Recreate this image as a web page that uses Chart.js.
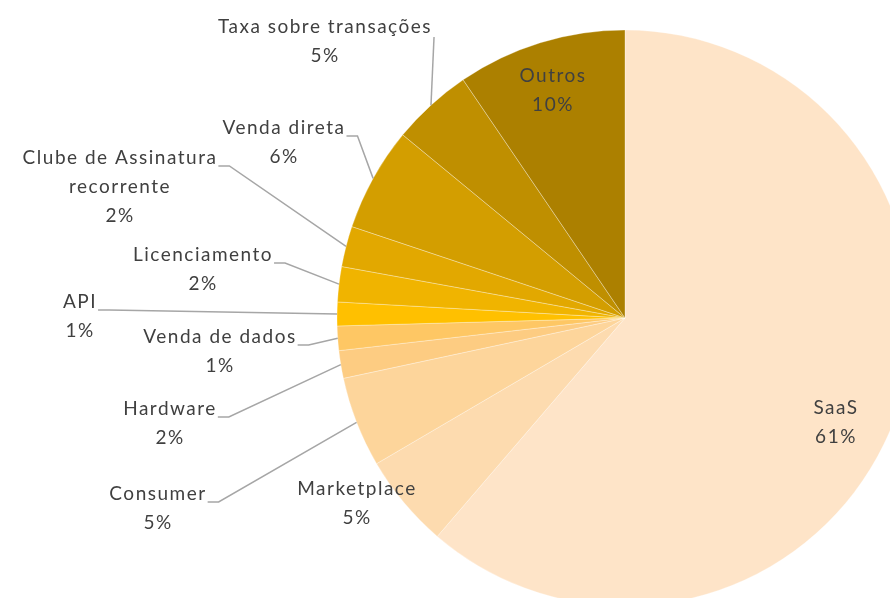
<!DOCTYPE html>
<html>
<head>
<meta charset="utf-8">
<script src="https://cdn.jsdelivr.net/npm/chart.js@4/dist/chart.umd.min.js"></script>
<style>
  html, body { margin: 0; padding: 0; background: #ffffff; overflow: hidden; }
  #wrap { position: relative; width: 890px; height: 598px; }
  canvas { display: block; }
</style>
</head>
<body>
<div id="wrap"><canvas id="c" width="890" height="598"></canvas></div>
<script>
// ---- data ----
const categories = ["SaaS", "Marketplace", "Consumer", "Hardware", "Venda de dados", "API",
  "Licenciamento", "Clube de Assinatura recorrente", "Venda direta", "Taxa sobre transações", "Outros"];
const labelLines = [["SaaS"], ["Marketplace"], ["Consumer"], ["Hardware"], ["Venda de dados"], ["API"],
  ["Licenciamento"], ["Clube de Assinatura", "recorrente"], ["Venda direta"], ["Taxa sobre transações"], ["Outros"]];
const shares = [61.3, 5.26, 5.08, 1.55, 1.37, 1.33, 1.97, 2.28, 5.83, 4.53, 9.5];

// ---- styles ----
const sliceColors = ["#FEE4C8", "#FDDBAF", "#FDD59B", "#FDCC82", "#FEC764", "#FFC000",
  "#F0B400", "#E2A800", "#D39E00", "#BF8F00", "#AC8000"];
// label anchor (centre x, first-line middle y); leader: "elbow" | "down" | null
const labelLayout = [
  {x: 836, y: 408, leader: null},
  {x: 357, y: 489, leader: null},
  {x: 158, y: 494, leader: "elbow"},
  {x: 170, y: 409, leader: "elbow"},
  {x: 220, y: 337, leader: "elbow"},
  {x: 80,  y: 302, leader: "elbow"},
  {x: 203, y: 255, leader: "elbow"},
  {x: 120, y: 158, leader: "elbow"},
  {x: 284, y: 128, leader: "elbow"},
  {x: 325, y: 27,  leader: "down"},
  {x: 553, y: 76,  leader: null}
];
const FONT = '19px Lato, "Open Sans", sans-serif';
const LINE_H = 29;

const labelPlugin = {
  id: 'pieLabels',
  afterDatasetsDraw(chart) {
    const ctx = chart.ctx;
    const meta = chart.getDatasetMeta(0);
    const total = shares.reduce((a, b) => a + b, 0);
    ctx.save();
    ctx.font = FONT;
    try { ctx.letterSpacing = '1.5px'; } catch (e) {}
    ctx.textAlign = 'center';
    ctx.textBaseline = 'middle';
    meta.data.forEach((arc, i) => {
      const p = arc.getProps(['x', 'y', 'startAngle', 'endAngle', 'outerRadius'], true);
      const mid = (p.startAngle + p.endAngle) / 2;
      const ax = p.x + Math.cos(mid) * p.outerRadius;
      const ay = p.y + Math.sin(mid) * p.outerRadius;
      const L = labelLayout[i];
      const lines = labelLines[i].concat([Math.round(shares[i] / total * 100) + '%']);
      const w = ctx.measureText(lines[0]).width;
      if (L.leader) {
        ctx.strokeStyle = '#A6A6A6';
        ctx.lineWidth = 1.5;
        ctx.beginPath();
        if (L.leader === 'elbow') {
          const sx = L.x + w / 2 + 1, sy = L.y + 8;
          ctx.moveTo(sx, sy);
          ctx.lineTo(sx + 11, sy);
          ctx.lineTo(ax, ay);
        } else {
          const sx = L.x + w / 2 + 2, sy = L.y + 10;
          ctx.moveTo(sx, sy);
          ctx.lineTo(ax, ay);
        }
        ctx.stroke();
      }
      ctx.fillStyle = '#404040';
      lines.forEach((t, k) => ctx.fillText(t, L.x, L.y + k * LINE_H));
    });
    ctx.restore();
  }
};

new Chart(document.getElementById('c'), {
  type: 'pie',
  data: {
    labels: categories,
    datasets: [{
      data: shares,
      backgroundColor: sliceColors,
      borderColor: 'rgba(255,255,255,0.3)',
      borderWidth: 1,
      radius: 288,
      clip: false
    }]
  },
  options: {
    responsive: false,
    animation: false,
    layout: { padding: { left: 360, right: 0, top: 38, bottom: 0 } },
    plugins: { legend: { display: false }, tooltip: { enabled: false } }
  },
  plugins: [labelPlugin]
});
</script>
</body>
</html>
